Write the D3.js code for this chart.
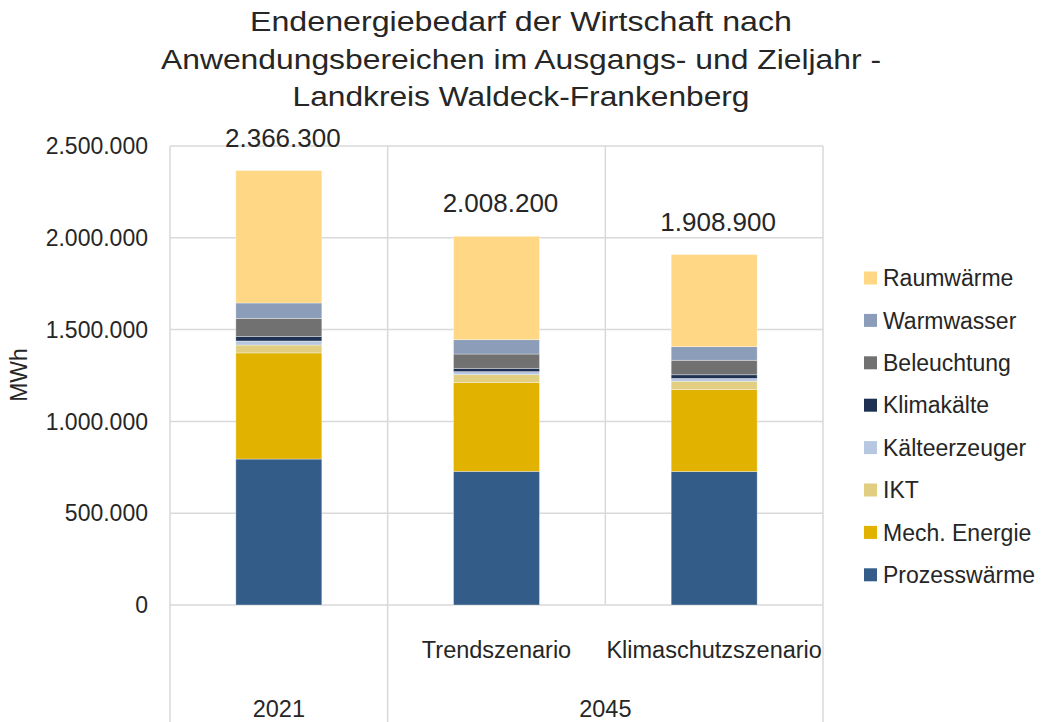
<!DOCTYPE html>
<html>
<head>
<meta charset="utf-8">
<script src="https://cdn.jsdelivr.net/npm/d3@7"></script>
<style>
  html, body { margin: 0; padding: 0; background: #fff; }
  svg { display: block; font-family: "Liberation Sans", Arial, sans-serif; }
</style>
</head>
<body>
<svg id="chart" width="1043" height="722"></svg>
<script>
// ---- data ----
const titleLines = [
  "Endenergiebedarf der Wirtschaft nach",
  "Anwendungsbereichen im Ausgangs- und Zieljahr -",
  "Landkreis Waldeck-Frankenberg"
];
const categories = ["2021", "Trendszenario", "Klimaschutzszenario"];
const subLabels = ["", "Trendszenario", "Klimaschutzszenario"];
const groups = [ { label: "2021", from: 0, to: 0 }, { label: "2045", from: 1, to: 2 } ];
const seriesNames = ["Prozesswärme", "Mech. Energie", "IKT", "Kälteerzeuger", "Klimakälte", "Beleuchtung", "Warmwasser", "Raumwärme"];
const seriesColors = ["#335d88", "#e2b200", "#e2ce80", "#b7c7df", "#1f3152", "#717171", "#8b9db8", "#ffd785"];
const prozesswaerme = [795000, 728000, 727000];
const mechEnergie   = [578000, 484000, 447000];
const ikt           = [43000, 43000, 45000];
const kaelteerzeuger= [22000, 16000, 15000];
const klimakaelte   = [25000, 18000, 20000];
const beleuchtung   = [98000, 78000, 79000];
const warmwasser    = [84000, 78000, 74000];
const raumwaerme    = [721300, 563200, 501900];
const totals        = [2366300, 2008200, 1908900];
const yTicks = [0, 500000, 1000000, 1500000, 2000000, 2500000];
const yLabel = "MWh";

const seriesValues = [prozesswaerme, mechEnergie, ikt, kaelteerzeuger, klimakaelte, beleuchtung, warmwasser, raumwaerme];

// ---- layout ----
const svg = d3.select("#chart");
const plotLeft = 170, plotRight = 823, plotTop = 146, plotBottom = 605;
const fmt = v => d3.format(",")(v).replace(/,/g, ".");

const x = d3.scaleBand().domain(categories).range([plotLeft, plotRight]).paddingInner(0).paddingOuter(0);
const y = d3.scaleLinear().domain([0, 2500000]).range([plotBottom, plotTop]);
const gridColor = "#d9d9d9";

// horizontal grid
svg.append("g").selectAll("line").data(yTicks).join("line")
  .attr("x1", plotLeft).attr("x2", plotRight)
  .attr("y1", d => y(d)).attr("y2", d => y(d))
  .attr("stroke", gridColor).attr("stroke-width", 1.5);

// vertical grid / category separators
const sepFull = [plotLeft, x("Trendszenario"), plotRight];
svg.append("g").selectAll("line").data(sepFull).join("line")
  .attr("x1", d => d).attr("x2", d => d)
  .attr("y1", plotTop).attr("y2", 722)
  .attr("stroke", gridColor).attr("stroke-width", 1.5);
svg.append("line")
  .attr("x1", x("Klimaschutzszenario")).attr("x2", x("Klimaschutzszenario"))
  .attr("y1", plotTop).attr("y2", plotBottom)
  .attr("stroke", gridColor).attr("stroke-width", 1.5);

// y tick labels
svg.append("g").selectAll("text").data(yTicks).join("text")
  .attr("x", 148).attr("y", d => y(d)).attr("dy", "0.36em")
  .attr("text-anchor", "end").attr("font-size", 23).attr("fill", "#262626")
  .text(d => fmt(d));

// y label
svg.append("text")
  .attr("transform", "translate(27,375) rotate(-90)")
  .attr("text-anchor", "middle").attr("font-size", 23).attr("fill", "#262626")
  .text(yLabel);

// stacked bars
const stackData = categories.map((c, i) => {
  const o = { cat: c };
  seriesNames.forEach((s, k) => { o[s] = seriesValues[k][i]; });
  return o;
});
const stack = d3.stack().keys(seriesNames)(stackData);
const barW = x.bandwidth() * 0.395;
svg.append("g").selectAll("g").data(stack).join("g")
  .attr("fill", (d, i) => seriesColors[i])
  .selectAll("rect").data(d => d).join("rect")
  .attr("x", d => x(d.data.cat) + (x.bandwidth() - barW) / 2)
  .attr("width", barW)
  .attr("y", d => y(d[1]))
  .attr("height", d => y(d[0]) - y(d[1]))
  .attr("stroke", "rgba(255,255,255,0.45)").attr("stroke-width", 0.75);

// totals labels
svg.append("g").selectAll("text").data(categories).join("text")
  .attr("x", d => x(d) + x.bandwidth() / 2 + 4)
  .attr("y", (d, i) => y(totals[i]) - 24)
  .attr("text-anchor", "middle").attr("font-size", 26).attr("fill", "#262626")
  .text((d, i) => fmt(totals[i]));

// category labels
svg.append("g").selectAll("text").data(categories).join("text")
  .attr("x", d => x(d) + x.bandwidth() / 2)
  .attr("y", 658)
  .attr("text-anchor", "middle").attr("font-size", 23.5).attr("fill", "#262626")
  .text((d, i) => subLabels[i]);
svg.append("g").selectAll("text").data(groups).join("text")
  .attr("x", g => (x(categories[g.from]) + x(categories[g.to]) + x.bandwidth()) / 2)
  .attr("y", 717)
  .attr("text-anchor", "middle").attr("font-size", 23.5).attr("fill", "#262626")
  .text(g => g.label);

// title
const titleWidths = [542, 720, 457];
svg.append("g").selectAll("text").data(titleLines).join("text")
  .attr("x", 521).attr("y", (d, i) => 31 + i * 37.5)
  .attr("text-anchor", "middle").attr("font-size", 27.5).attr("fill", "#262626")
  .attr("textLength", (d, i) => titleWidths[i]).attr("lengthAdjust", "spacingAndGlyphs")
  .text(d => d);

// legend (reverse order)
const legendOrder = seriesNames.map((s, i) => i).reverse();
const lg = svg.append("g").selectAll("g").data(legendOrder).join("g")
  .attr("transform", (d, j) => `translate(864, ${278 + j * 42.4})`);
lg.append("rect").attr("x", 0).attr("y", -6.5).attr("width", 13).attr("height", 13)
  .attr("fill", d => seriesColors[d]);
lg.append("text").attr("x", 19).attr("y", 0).attr("dy", "0.36em")
  .attr("font-size", 23).attr("fill", "#262626")
  .text(d => seriesNames[d]);
</script>
</body>
</html>
